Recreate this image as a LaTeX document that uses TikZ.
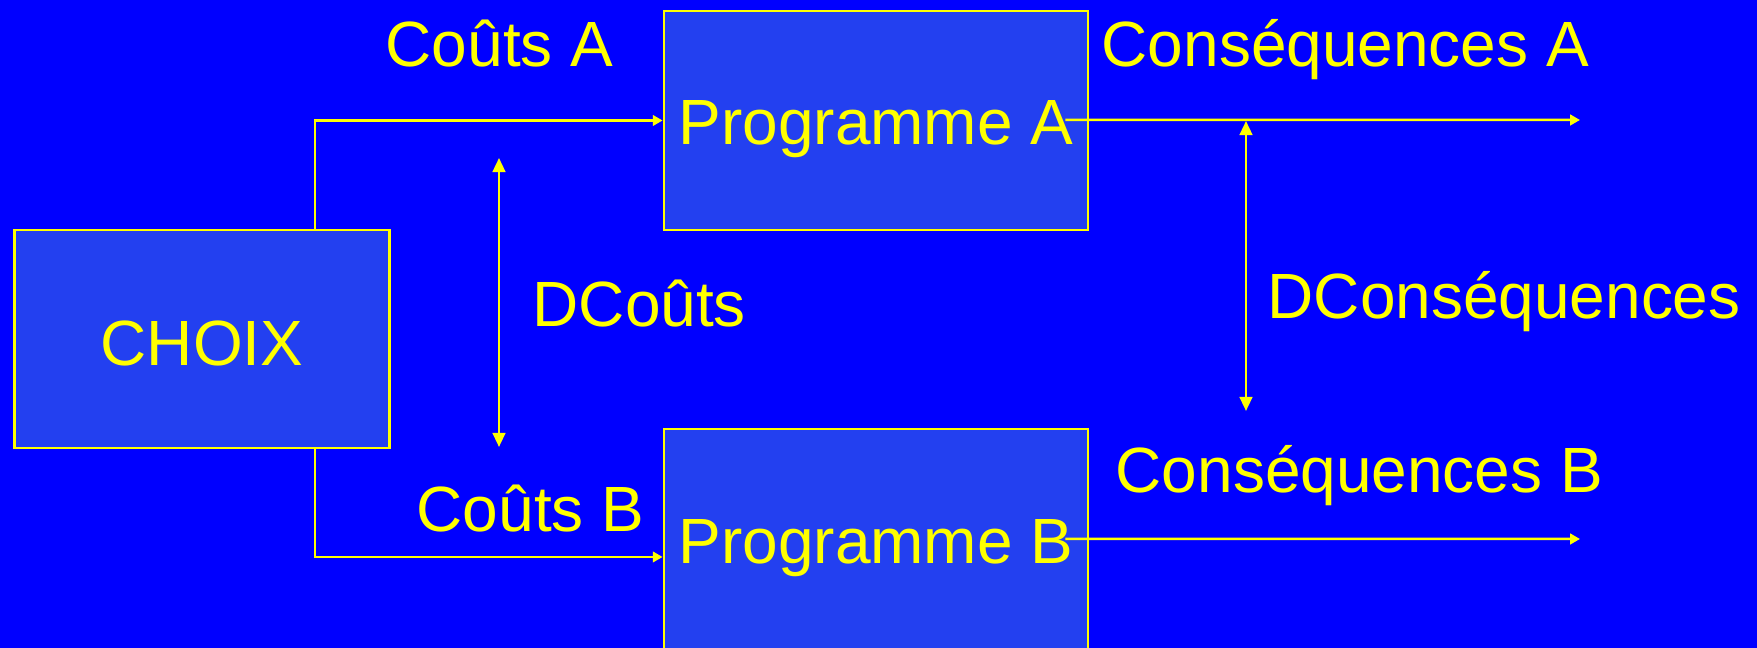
\documentclass[tikz,border=0pt]{standalone}
\usepackage{fontspec}
\setmainfont{Liberation Sans}
\usepackage{xcolor}
\usepackage{tikz}
\usetikzlibrary{arrows.meta,positioning,calc}
\definecolor{bgblue}{RGB}{0,0,255}
\definecolor{boxblue}{RGB}{35,64,240}
\definecolor{ylw}{RGB}{255,255,0}
\tikzset{
  prog/.style  = {draw=ylw, fill=boxblue, rectangle, line width=0.8pt,
                  text=ylw, font=\fontsize{18.2}{22}\selectfont, inner sep=0pt},
  lbl/.style   = {text=ylw, font=\fontsize{18.2}{22}\selectfont, inner sep=0pt,
                  anchor=base west},
  wire/.style  = {draw=ylw, -{Triangle[length=2.8pt,width=3pt]}, line width=0.7pt},
  diff/.style  = {draw=ylw, {Triangle[length=4pt,width=3.6pt]}-{Triangle[length=4pt,width=3.6pt]},
                  line width=0.7pt}
}

\begin{document}
\begin{tikzpicture}

% --- frame ---
\useasboundingbox (0,0) rectangle (17.57,6.48);
\fill[bgblue] (0,0) rectangle (17.57,6.48);

% --- blocks ---
\node[prog, minimum width=37.5mm, minimum height=21.8mm,
      text height=15.3pt, text depth=0pt] (choix) at (2.02,3.09) {CHOIX};
\node[prog, minimum width=42.4mm, minimum height=21.9mm,
      text height=17.6pt, text depth=3.8pt] (progA) at (8.76,5.275) {Programme A};
\node[prog, minimum width=42.4mm, minimum height=23mm,
      text height=14.8pt, text depth=3.8pt] (progB) at (8.76,1.04) {Programme B};

% --- labels ---
\node[lbl] (coutA) at (3.85,5.81) {Coûts A};
\node[lbl] (consA) at (11.01,5.81) {Conséquences A};
\node[lbl] (dcout) at (5.32,3.21) {DCoûts};
\node[lbl] (dcons) at (12.67,3.29) {DConséquences};
\node[lbl] (coutB) at (4.16,1.16) {Coûts B};
\node[lbl] (consB) at (11.15,1.55) {Conséquences B};

% --- choice to programmes ---
\draw[wire] ([xshift=11.3mm]choix.north) |- (progA.west);
\draw[wire] ([xshift=11.3mm]choix.south) |- ([yshift=-1.3mm]progB.west);

% --- outcomes ---
\coordinate (endA) at (15.80,5.28);
\coordinate (endB) at (15.80,1.09);
\draw[wire] ([xshift=-2.4mm,yshift=0.05mm]progA.east) -- (endA);
\draw[wire] ([xshift=-2.4mm,yshift=0.5mm]progB.east) -- (endB);

% --- differences ---
\coordinate (dcTop) at (4.99,4.90);
\coordinate (dcBot) at (4.99,2.01);
\coordinate (dqTop) at (12.46,5.27);
\coordinate (dqBot) at (12.46,2.37);
\draw[diff] (dcTop) -- (dcBot);
\draw[diff] (dqTop) -- (dqBot);

\end{tikzpicture}
\end{document}
